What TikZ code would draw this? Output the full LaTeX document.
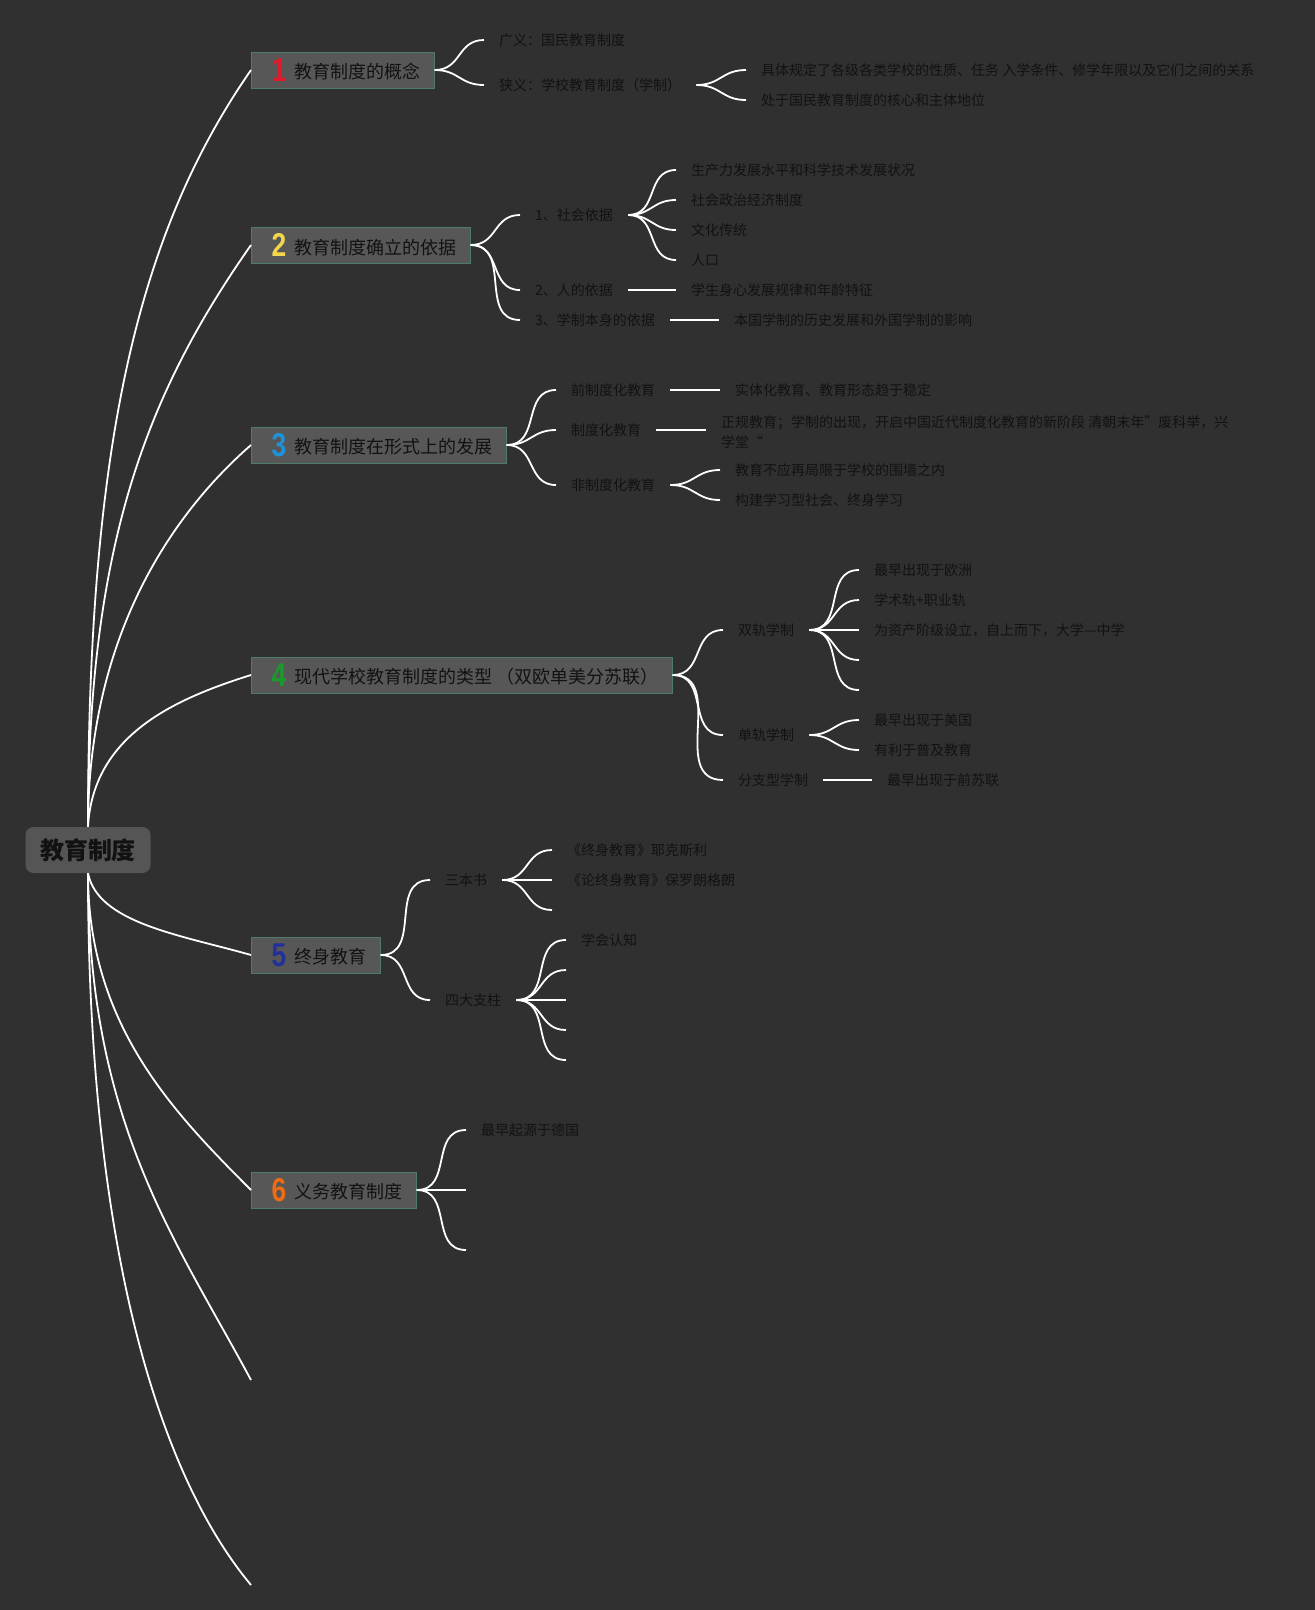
\documentclass[tikz,border=0pt]{standalone}
\usepackage{fontspec}
\setmainfont{Noto Sans CJK SC}
\newfontfamily\numfont{Liberation Sans}
\definecolor{bg}{HTML}{303030}
\definecolor{boxfill}{HTML}{575757}
\definecolor{boxline}{HTML}{4E7B6A}
\definecolor{rootfill}{HTML}{555555}
\definecolor{ink}{HTML}{121212}
\definecolor{numred}{HTML}{E01B2B}
\definecolor{numyellow}{HTML}{F2D64B}
\definecolor{numblue}{HTML}{1E93DA}
\definecolor{numgreen}{HTML}{1B9A2C}
\definecolor{numnavy}{HTML}{22309A}
\definecolor{numorange}{HTML}{F26B12}
\newcommand{\topictext}[3]{\hspace*{20pt}\textcolor{#1}{\scalebox{0.8}[1]{\numfont\bfseries\fontsize{33}{33}\selectfont #2}}\hspace{8pt}\raisebox{2.5pt}{#3}\hspace*{14pt}}

\begin{document}
\begin{tikzpicture}[x=1pt,y=-1pt,
  topic/.style={draw=boxline,fill=boxfill,line width=1pt,anchor=west,inner xsep=0pt,minimum height=36pt,text=ink,font=\fontsize{18}{22}\selectfont},
  leaf/.style={anchor=west,inner xsep=15pt,inner ysep=3pt,text=ink,font=\fontsize{14}{20}\selectfont},
  branch/.style={white,line width=1.8pt},
  fork/.style={out=0,in=180,looseness=1.2}]
\fill[bg] (0,0) rectangle (1315,1610);
\useasboundingbox (0,0) rectangle (1315,1610);

\node[fill=rootfill,rounded corners=8pt,minimum width=125pt,minimum height=46pt,text=ink,font=\fontsize{24}{28}\selectfont\bfseries] (sys) at (88,850) {教育制度};

\node[topic] (t1) at (251,70) {\topictext{numred}{1}{教育制度的概念}};
\node[topic] (t2) at (251,245) {\topictext{numyellow}{2}{教育制度确立的依据}};
\node[topic] (t3) at (251,445) {\topictext{numblue}{3}{教育制度在形式上的发展}};
\node[topic] (t4) at (251,675) {\topictext{numgreen}{4}{现代学校教育制度的类型 （双欧单美分苏联）}};
\node[topic] (t5) at (251,955) {\topictext{numnavy}{5}{终身教育}};
\node[topic] (t6) at (251,1190) {\topictext{numorange}{6}{义务教育制度}};
\coordinate (t7) at (251,1380);
\coordinate (t8) at (251,1585);

\draw[branch] (sys.north) .. controls +(0,-380) and +(-114,164) .. (t1.west);
\draw[branch] (sys.north) .. controls +(0,-290) and +(-100,143) .. (t2.west);
\draw[branch] (sys.north) .. controls +(0,-190) and +(-80,70) .. (t3.west);
\draw[branch] (sys.north) .. controls +(5,-90) and +(-80,25) .. (t4.west);
\draw[branch] (sys.south) .. controls +(10,50) and +(-70,-20) .. (t5.west);
\draw[branch] (sys.south) .. controls +(0,150) and +(-80,-80) .. (t6.west);
\draw[branch] (sys.south) .. controls +(0,250) and +(-75,-140) .. (t7);
\draw[branch] (sys.south) .. controls +(0,350) and +(-100,-120) .. (t8);

% 1
\node[leaf] (t1a) at (484,40) {广义：国民教育制度};
\node[leaf] (t1b) at (484,85) {狭义：学校教育制度（学制）};
\node[leaf] (t1b1) at (746,70) {具体规定了各级各类学校的性质、任务 入学条件、修学年限以及它们之间的关系};
\node[leaf] (t1b2) at (746,100) {处于国民教育制度的核心和主体地位};
\draw[branch] (t1.east) to[fork] (t1a.west);
\draw[branch] (t1.east) to[fork] (t1b.west);
\draw[branch] (t1b.east) to[fork] (t1b1.west);
\draw[branch] (t1b.east) to[fork] (t1b2.west);

% 2
\node[leaf] (t2a) at (520,215) {1、社会依据};
\node[leaf] (t2b) at (520,290) {2、人的依据};
\node[leaf] (t2c) at (520,320) {3、学制本身的依据};
\foreach \n in {a,b,c}
  \draw[branch] (t2.east) to[fork] (t2\n.west);
\foreach \n/\y/\s in {1/170/生产力发展水平和科学技术发展状况,2/200/社会政治经济制度,3/230/文化传统,4/260/人口}{
  \node[leaf] (t2a\n) at (676,\y) {\s};
  \draw[branch] (t2a.east) to[fork] (t2a\n.west);
}
\node[leaf] (t2b1) at (676,290) {学生身心发展规律和年龄特征};
\node[leaf] (t2c1) at (719,320) {本国学制的历史发展和外国学制的影响};
\draw[branch] (t2b.east) -- (t2b1.west);
\draw[branch] (t2c.east) -- (t2c1.west);

% 3
\node[leaf] (t3a) at (556,390) {前制度化教育};
\node[leaf] (t3b) at (556,430) {制度化教育};
\node[leaf] (t3c) at (556,485) {非制度化教育};
\foreach \n in {a,b,c}
  \draw[branch] (t3.east) to[fork] (t3\n.west);
\node[leaf] (t3a1) at (720,390) {实体化教育、教育形态趋于稳定};
\node[leaf,align=left] (t3b1) at (706,432) {正规教育；学制的出现，开启中国近代制度化教育的新阶段 清朝末年”废科举，兴\\学堂“};
\draw[branch] (t3a.east) -- (t3a1.west);
\draw[branch] (t3b.east) -- (t3b.east -| t3b1.west);
\node[leaf] (t3c1) at (720,470) {教育不应再局限于学校的围墙之内};
\node[leaf] (t3c2) at (720,500) {构建学习型社会、终身学习};
\draw[branch] (t3c.east) to[fork] (t3c1.west);
\draw[branch] (t3c.east) to[fork] (t3c2.west);

% 4
\node[leaf] (t4a) at (723,630) {双轨学制};
\node[leaf] (t4b) at (723,735) {单轨学制};
\node[leaf] (t4c) at (723,780) {分支型学制};
\foreach \n in {a,b,c}
  \draw[branch] (t4.east) to[fork] (t4\n.west);
\foreach \n/\y/\s in {1/570/最早出现于欧洲,2/600/学术轨+职业轨,3/630/为资产阶级设立，自上而下，大学—中学}{
  \node[leaf] (t4a\n) at (859,\y) {\s};
  \draw[branch] (t4a.east) to[fork] (t4a\n.west);
}
\coordinate (t4a4) at (859,660);
\coordinate (t4a5) at (859,690);
\draw[branch] (t4a.east) to[fork] (t4a4);
\draw[branch] (t4a.east) to[fork] (t4a5);
\node[leaf] (t4b1) at (859,720) {最早出现于美国};
\node[leaf] (t4b2) at (859,750) {有利于普及教育};
\draw[branch] (t4b.east) to[fork] (t4b1.west);
\draw[branch] (t4b.east) to[fork] (t4b2.west);
\node[leaf] (t4c1) at (872,780) {最早出现于前苏联};
\draw[branch] (t4c.east) -- (t4c1.west);

% 5
\node[leaf] (t5a) at (430,880) {三本书};
\node[leaf] (t5b) at (430,1000) {四大支柱};
\draw[branch] (t5.east) to[fork] (t5a.west);
\draw[branch] (t5.east) to[fork] (t5b.west);
\node[leaf] (t5a1) at (552,850) {《终身教育》耶克斯利};
\node[leaf] (t5a2) at (552,880) {《论终身教育》保罗朗格朗};
\coordinate (t5a3) at (552,910);
\draw[branch] (t5a.east) to[fork] (t5a1.west);
\draw[branch] (t5a.east) to[fork] (t5a2.west);
\draw[branch] (t5a.east) to[fork] (t5a3);
\node[leaf] (t5b1) at (566,940) {学会认知};
\draw[branch] (t5b.east) to[fork] (t5b1.west);
\foreach \n/\y in {2/970,3/1000,4/1030,5/1060}{
  \coordinate (t5b\n) at (566,\y);
  \draw[branch] (t5b.east) to[fork] (t5b\n);
}

% 6
\node[leaf] (t6a) at (466,1130) {最早起源于德国};
\coordinate (t6b) at (466,1190);
\coordinate (t6c) at (466,1250);
\draw[branch] (t6.east) to[fork] (t6a.west);
\draw[branch] (t6.east) to[fork] (t6b);
\draw[branch] (t6.east) to[fork] (t6c);
\end{tikzpicture}
\end{document}
